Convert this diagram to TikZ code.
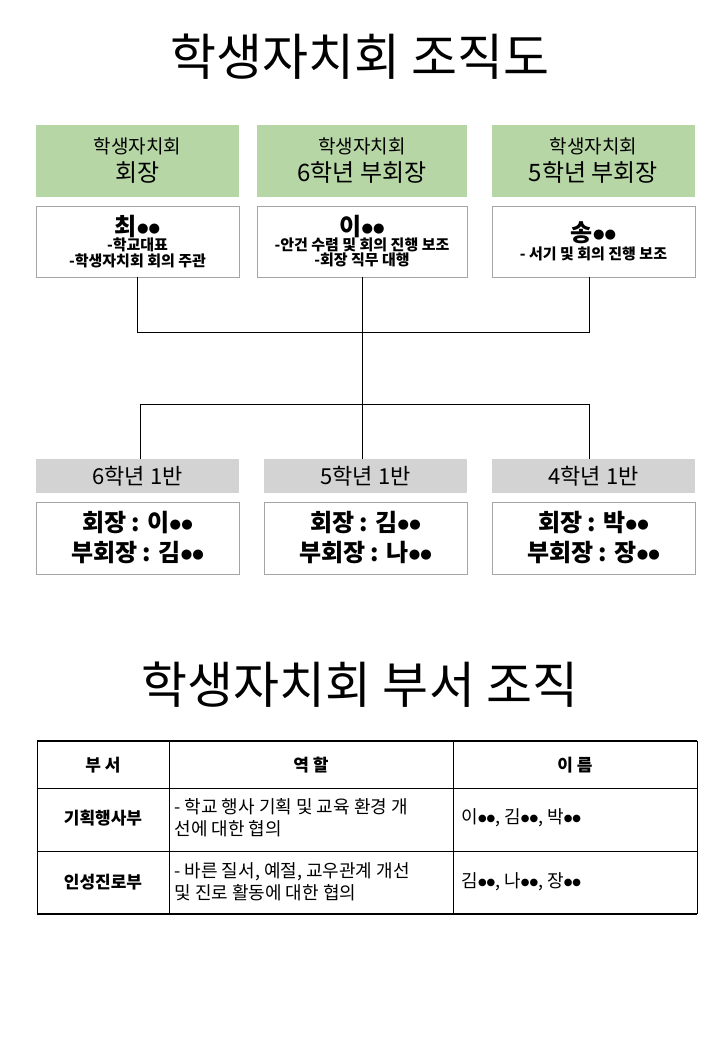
\documentclass[tikz,border=0pt]{standalone}
\usepackage{fontspec}
\setmainfont{Noto Sans CJK KR}
\newfontfamily\djv{DejaVu Sans}
\newcommand{\dd}{\raisebox{0.15em}{\scalebox{0.55}{\djv ●●}}}
\begin{document}
\begin{tikzpicture}[x=1pt,y=-1pt,
 green/.style={fill={rgb,255:red,183;green,214;blue,165},draw=none,align=center,font=\fontsize{24}{28}\selectfont},
 gray/.style={fill={rgb,255:red,211;green,211;blue,211},draw=none,align=center,font=\fontsize{22}{24}\selectfont},
 wbox/.style={draw={rgb,255:red,165;green,165;blue,165},fill=white,align=center},
 ln/.style={draw=black,line width=0.8pt},
 hd/.style={font=\bfseries\fontsize{17}{20}\selectfont},
 cell/.style={font=\fontsize{18}{22}\selectfont,anchor=west,align=left}]
\useasboundingbox (0,0) rectangle (720,1040);
\node at (360,57) {\fontsize{50}{54}\selectfont 학생자치회 조직도};
\node at (360,685) {\fontsize{50}{54}\selectfont 학생자치회 부서 조직};
% top row
\node[green,minimum width=203pt,minimum height=72pt] (g1) at (137.5,161) {{\fontsize{19}{24}\selectfont 학생자치회}\\회장};
\node[green,minimum width=210pt,minimum height=72pt] (g2) at (362,161) {{\fontsize{19}{24}\selectfont 학생자치회}\\6학년 부회장};
\node[green,minimum width=203pt,minimum height=72pt] (g3) at (593.5,161) {{\fontsize{19}{24}\selectfont 학생자치회}\\5학년 부회장};
\node[wbox,minimum width=203pt,minimum height=71pt] (w1) at (137.5,241.5) {};
\node[wbox,minimum width=210pt,minimum height=71pt] (w2) at (362,241.5) {};
\node[wbox,minimum width=203pt,minimum height=71pt] (w3) at (593.5,241.5) {};
\node[align=center,font=\bfseries] at (w1) {{\fontsize{24}{24}\selectfont 최\dd}\\[-1pt]{\fontsize{15}{19}\selectfont -학교대표}\\{\fontsize{15}{19}\selectfont -학생자치회 회의 주관}};
\node[align=center,font=\bfseries] at (w2) {{\fontsize{24}{24}\selectfont 이\dd}\\[-1pt]{\fontsize{15}{19}\selectfont -안건 수렴 및 회의 진행 보조}\\{\fontsize{15}{19}\selectfont -회장 직무 대행}};
\node[align=center,font=\bfseries] at (w3) {{\fontsize{24}{24}\selectfont 송\dd}\\[2pt]{\fontsize{15}{19}\selectfont - 서기 및 회의 진행 보조}};
% connectors
\coordinate (c1) at (137,332); \coordinate (c3) at (589,332);
\coordinate (h1) at (140,404); \coordinate (h3) at (589,404);
\draw[ln] (w1.south-|c1) -- (c1) -- (c3) -- (w3.south-|c3);
% bottom row
\node[gray,minimum width=203pt,minimum height=34pt] (b1) at (137.5,476) {6학년 1반};
\node[gray,minimum width=203pt,minimum height=34pt] (b2) at (365.5,476) {5학년 1반};
\node[gray,minimum width=203pt,minimum height=34pt] (b3) at (593.5,476) {4학년 1반};
\draw[ln] (w2.south) -- (w2.south|-b2.north);
\draw[ln] (b1.north-|h1) -- (h1) -- (h3) -- (b3.north-|h3);
\node[wbox,minimum width=203pt,minimum height=72pt,font=\bfseries\fontsize{24}{30}\selectfont] (d1) at (137.5,538) {회장 : 이\dd\\부회장 : 김\dd};
\node[wbox,minimum width=203pt,minimum height=72pt,font=\bfseries\fontsize{24}{30}\selectfont] (d2) at (365.5,538) {회장 : 김\dd\\부회장 : 나\dd};
\node[wbox,minimum width=203pt,minimum height=72pt,font=\bfseries\fontsize{24}{30}\selectfont] (d3) at (593.5,538) {회장 : 박\dd\\부회장 : 장\dd};
% table
\draw[line width=1.2pt] (37,741) -- (697,741);
\draw[line width=1.2pt] (37,914) -- (697,914);
\draw[line width=0.6pt] (37,788) -- (697,788) (37,851) -- (697,851);
\draw[line width=0.6pt] (37,741) -- (37,914) (169,741) -- (169,914) (453,741) -- (453,914) (697,741) -- (697,914);
\node[hd] at (103,765) {부 서};
\node[hd] at (311,765) {역 할};
\node[hd] at (575,765) {이 름};
\node[hd] at (103,818) {기획행사부};
\node[hd] at (103,882) {인성진로부};
\node[cell] at (171,818) {- 학교 행사 기획 및 교육 환경 개\\선에 대한 협의};
\node[cell] at (171,882) {- 바른 질서, 예절, 교우관계 개선\\및 진로 활동에 대한 협의};
\node[cell] at (458,818) {이\dd, 김\dd, 박\dd};
\node[cell] at (458,882) {김\dd, 나\dd, 장\dd};
\end{tikzpicture}
\end{document}
